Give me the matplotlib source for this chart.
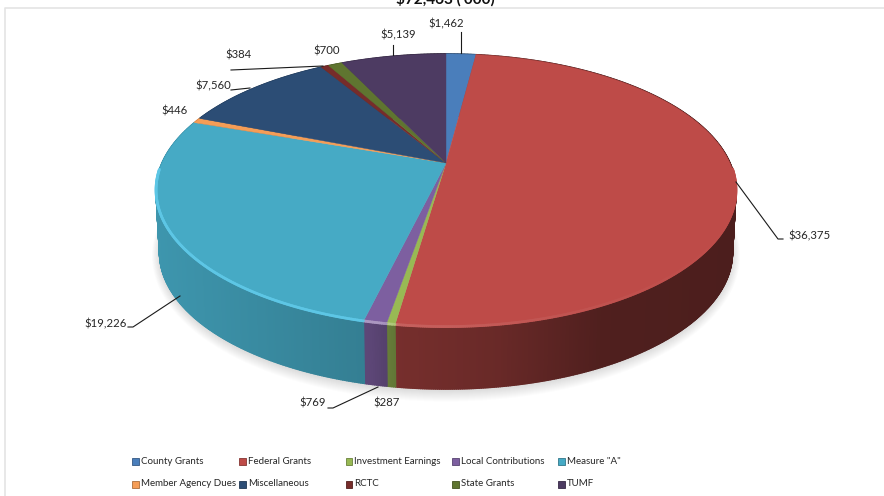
import numpy as np
import matplotlib
matplotlib.use("Agg")
import matplotlib.pyplot as plt
from matplotlib.collections import PolyCollection, LineCollection
from matplotlib.colors import to_rgb
from matplotlib.patches import Rectangle

plt.rcParams['font.family'] = ['Lato', 'DejaVu Sans']

# Revenue by source, thousands of dollars
categories = ["County Grants", "Federal Grants", "Investment Earnings", "Local Contributions",
              'Measure "A"', "Member Agency Dues", "Miscellaneous", "RCTC", "State Grants", "TUMF"]
values = [1462, 36375, 287, 769, 19226, 446, 7560, 384, 700, 5139]
colors = ["#4a7ebb", "#be4b48", "#98b954", "#7d5fa0", "#46aac5",
          "#f59d56", "#2c4d75", "#772c2a", "#5f7530", "#4d3b62"]
title = "$72,463 ('000)"

# Geometry of the tilted disc, in pixels
CX, APEX_Y = 446.0, 163.0
A, B, PERSP = 284.0, 131.0, 0.2015
DEPTH = 62.0


def project(theta):
    """Map a clockwise angle from 12 o'clock to the rim of the tilted disc."""
    u, v = np.sin(theta), -np.cos(theta)
    w = 1 - PERSP * v
    return CX + A * u / w, APEX_Y + B * v / w


def lower_rim(x, y):
    return CX + (x - CX) * 0.988, y + DEPTH


def mix(color, other, t):
    c, o = np.array(to_rgb(color)), np.array(to_rgb(other))
    return tuple(c * (1 - t) + o * t)


fig = plt.figure(figsize=(8.84, 4.96), dpi=100, facecolor="white")
ax = fig.add_axes([0, 0, 1, 1])
ax.set_xlim(0, 884)
ax.set_ylim(496, 0)
ax.axis("off")

# Faint chart frame
ax.plot([4.5, 4.5, 884], [496, 7.5, 7.5], color="#e4e4e4", lw=1.2, zorder=0)

edges = np.cumsum([0] + values) / sum(values) * 2 * np.pi

# Soft ground shadow under the disc
t = np.linspace(0, 2 * np.pi, 400)
sx, sy = lower_rim(*project(t))
for grow in np.linspace(11, 0, 12):
    scale = 1 + grow / 420
    ax.fill(CX + (sx - CX) * scale, (sy - 225) * (1 + grow / 165) + 225 + 1.5,
            color="#9a9a9a", alpha=0.028, lw=0, zorder=1)

# Side wall, shaded from light on the left to dark on the right
wall_polys, wall_cols = [], []
for i, col in enumerate(colors):
    n = max(3, int((edges[i + 1] - edges[i]) / 0.006))
    th = np.linspace(edges[i], edges[i + 1], n + 1)
    x, y = project(th)
    xb, yb = lower_rim(x, y)
    for k in range(n):
        wall_polys.append([(x[k], y[k]), (x[k + 1], y[k + 1]), (xb[k + 1], yb[k + 1]), (xb[k], yb[k])])
        shade = np.interp((x[k] + x[k + 1]) / 2, [156, 370, 400, 500, 600, 736],
                          [0.88, 0.74, 0.62, 0.55, 0.42, 0.40])
        wall_cols.append(tuple(np.array(to_rgb(col)) * shade))
ax.add_collection(PolyCollection(wall_polys, facecolors=wall_cols, edgecolors=wall_cols, lw=1.1, zorder=2))

# Top face, one wedge per category
for i, col in enumerate(colors):
    th = np.linspace(edges[i], edges[i + 1], max(3, int((edges[i + 1] - edges[i]) / 0.006)))
    x, y = project(th)
    ax.fill(np.r_[CX, x], np.r_[APEX_Y, y], color=col, lw=0.3, zorder=3)

# Bevel highlight along the front of the rim, strongest on the lit left side
segs, seg_cols = [], []
for i, col in enumerate(colors):
    th = np.linspace(edges[i], edges[i + 1], max(3, int((edges[i + 1] - edges[i]) / 0.006)))
    x, y = project(th)
    for k in range(len(th) - 1):
        mid = (th[k] + th[k + 1]) / 2
        if np.cos(mid) > -0.05:
            continue
        xm = (x[k] + x[k + 1]) / 2
        strength = np.interp(xm, [156, 380, 400, 560, 736], [0.35, 0.35, 0.12, 0.05, 0.0])
        target = "#6fdcff" if col == "#46aac5" else "white"
        segs.append([(x[k], y[k] - 0.5), (x[k + 1], y[k + 1] - 0.5)])
        seg_cols.append(mix(col, target, strength * (1.6 if col == "#46aac5" else 1.0)))
ax.add_collection(LineCollection(segs, colors=seg_cols, linewidths=2.0, capstyle="round", zorder=4))

# Value labels with leader lines
label_pos = [(446, 24), (809, 236), (387, 403), (313, 403), (106, 324),
             (175, 111), (213, 86), (238, 55), (327, 51), (398, 35)]
leaders = [
    [(461, 32), (461, 53)],
    [(736, 182), (778, 239), (783, 239)],
    None,
    [(328, 408), (333, 408), (378, 387)],
    [(128, 327), (133, 327), (180, 296)],
    None,
    [(231, 90), (250, 88)],
    [(231, 70), (323, 66)],
    None,
    [(392.5, 45), (392.5, 55)],
]
for v, pos, line in zip(values, label_pos, leaders):
    ax.text(pos[0], pos[1], f"${v:,}", ha="center", va="center", fontsize=8.2, color="#262626", zorder=6)
    if line:
        ax.plot(*zip(*line), color="#1a1a1a", lw=0.8, zorder=5)

ax.text(445, 4, title, ha="center", va="baseline", fontsize=11, fontweight="bold", color="#111111", zorder=6)

# Legend, two rows of five equally spaced columns
col_x = [132, 239, 345.5, 452, 558]
row_y = [461, 484]
for i, (name, col) in enumerate(zip(categories, colors)):
    x0, y0 = col_x[i % 5], row_y[i // 5]
    ax.add_patch(Rectangle((x0, y0 - 3), 6.5, 6.5, facecolor=col, edgecolor=mix(col, "black", 0.3), lw=0.6, zorder=6))
    ax.text(x0 + 9, y0, name, ha="left", va="center", fontsize=7.0, color="#262626", zorder=6)

fig.savefig("out.png", dpi=100, facecolor="white")
